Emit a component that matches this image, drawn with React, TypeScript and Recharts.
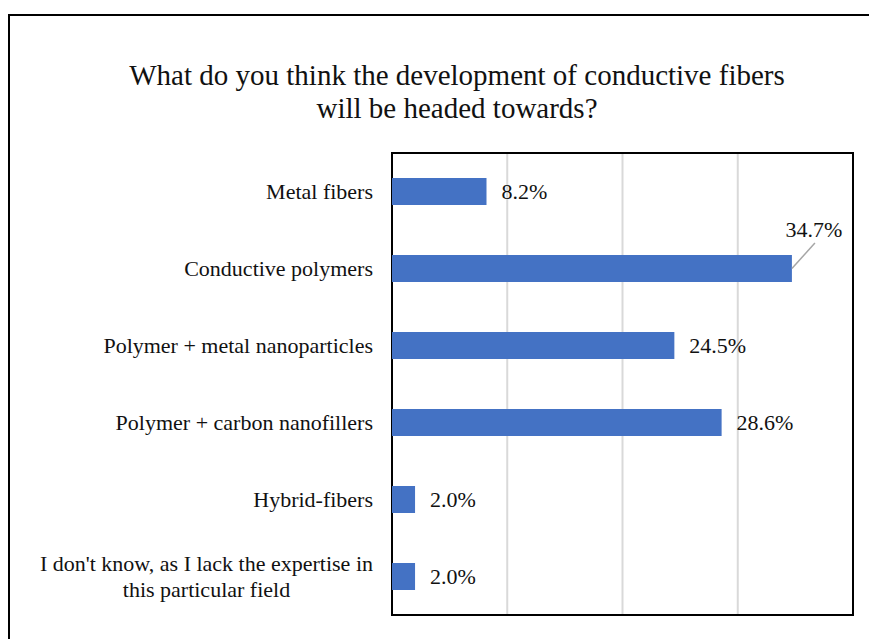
import { BarChart, Bar, XAxis, YAxis, CartesianGrid, ReferenceArea, LabelList } from 'recharts'

const categories = [
  'Metal fibers',
  'Conductive polymers',
  'Polymer + metal nanoparticles',
  'Polymer + carbon nanofillers',
  'Hybrid-fibers',
  "I don't know, as I lack the expertise in\nthis particular field",
]
const shares = [0.082, 0.347, 0.245, 0.286, 0.02, 0.02]
const xTicks = [0, 0.1, 0.2, 0.3, 0.4]
const titleLines = ['What do you think the development of conductive fibers', 'will be headed towards?']

const FONT = 'Liberation Serif, Tinos, Times New Roman, DejaVu Serif, serif'
const FONT_SIZE = 22
const PLOT_RIGHT = 853

const data = categories.map((name, i) => ({ name, share: shares[i] }))

let canvas: HTMLCanvasElement | null = null
function measure(text: string): number {
  if (!canvas) canvas = document.createElement('canvas')
  const ctx = canvas.getContext('2d')
  if (!ctx) return text.length * FONT_SIZE * 0.45
  ctx.font = `${FONT_SIZE}px ${FONT}`
  return ctx.measureText(text).width
}

function CategoryTick(props: any) {
  const { x, y, payload } = props
  const lines = String(payload.value).split('\n')
  if (lines.length === 1) {
    return (
      <text x={x} y={y} dy="0.35em" textAnchor="end" style={{ fontFamily: FONT }} fontSize={FONT_SIZE} fill="#111">
        {lines[0]}
      </text>
    )
  }
  const widest = Math.max(...lines.map(measure))
  const cx = x - widest / 2
  const lineH = 26
  return (
    <text textAnchor="middle" style={{ fontFamily: FONT }} fontSize={FONT_SIZE} fill="#111">
      {lines.map((l, i) => (
        <tspan key={i} x={cx} y={y + (i - (lines.length - 1) / 2) * lineH} dy="0.35em">
          {l}
        </tspan>
      ))}
    </text>
  )
}

function ValueLabel(props: any) {
  const { x, y, width, height, value } = props
  const text = `${(value * 100).toFixed(1)}%`
  const end = x + width
  const fits = end + 15 + measure(text) < PLOT_RIGHT
  if (fits) {
    return (
      <text x={end + 15} y={y + height / 2} dy="0.35em" style={{ fontFamily: FONT }} fontSize={FONT_SIZE} fill="#111">
        {text}
      </text>
    )
  }
  return (
    <g>
      <line x1={end} y1={y + height / 2} x2={end + 23} y2={y - 12} stroke="#a6a6a6" strokeWidth={1.5} />
      <text x={end + 22} y={y - 26} dy="0.35em" textAnchor="middle" style={{ fontFamily: FONT }} fontSize={FONT_SIZE} fill="#111">
        {text}
      </text>
    </g>
  )
}

export default function App() {
  return (
    <div style={{ position: 'absolute', left: 0, top: 0, width: 869, height: 639, overflow: 'hidden', background: '#fff' }}>
      <div
        style={{
          position: 'absolute',
          left: 8,
          top: 14,
          width: 940,
          height: 700,
          border: '2px solid #000',
        }}
      />
      <div
        style={{
          position: 'absolute',
          left: 0,
          top: 59,
          width: 914,
          textAlign: 'center',
          fontFamily: FONT,
          fontSize: 29,
          lineHeight: '33px',
          color: '#111',
        }}
      >
        {titleLines.map((l, i) => (
          <div key={i}>{l}</div>
        ))}
      </div>
      <div style={{ position: 'absolute', left: 0, top: 0 }}>
        <BarChart
          width={869}
          height={639}
          data={data}
          layout="vertical"
          margin={{ top: 153, right: 16, bottom: 24, left: 0 }}
          barCategoryGap={0}
        >
          <CartesianGrid horizontal={false} stroke="#d9d9d9" strokeWidth={2} />
          <XAxis type="number" domain={[0, 0.4]} ticks={xTicks} hide />
          <YAxis
            type="category"
            dataKey="name"
            width={392}
            axisLine={false}
            tickLine={false}
            tickSize={0}
            tickMargin={19}
            tick={<CategoryTick />}
            interval={0}
          />
          <Bar dataKey="share" fill="#4472C4" barSize={27} isAnimationActive={false}>
            <LabelList dataKey="share" content={<ValueLabel />} />
          </Bar>
          <ReferenceArea x1={0} x2={0.4} fill="none" stroke="#000" strokeWidth={2} fillOpacity={0} ifOverflow="visible" />
        </BarChart>
      </div>
    </div>
  )
}
